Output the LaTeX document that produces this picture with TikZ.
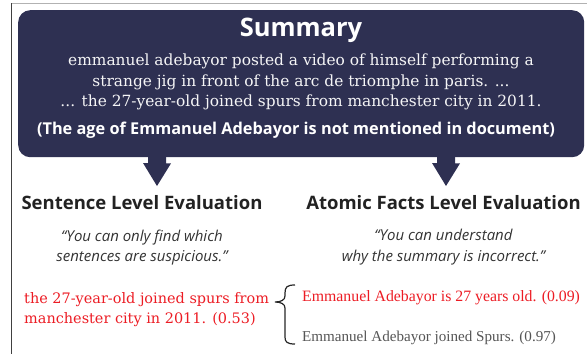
\documentclass[tikz,border=0pt]{standalone}
\usepackage{fontspec}
\setmainfont{DejaVu Serif}
\setsansfont{Open Sans}
\newfontfamily\factfont{Liberation Serif}
\usepackage{xcolor}
\usepackage{tikz}
\usetikzlibrary{positioning}

\definecolor{navy}{HTML}{2E3052}
\definecolor{factred}{HTML}{EC1C24}
\definecolor{headgray}{HTML}{222222}
\definecolor{quotegray}{HTML}{333333}
\definecolor{factgray}{HTML}{555555}

\tikzset{
  heading/.style={font=\sffamily\bfseries\fontsize{18.5}{22}\selectfont, text=headgray, inner sep=0pt},
  quote/.style={font=\sffamily\itshape\fontsize{15}{20.5}\selectfont, text=quotegray, align=center, inner sep=0pt},
  fact/.style={font=\factfont\fontsize{15.8}{18}\selectfont, inner sep=0pt, anchor=base west},
  blockarrow/.style={fill=navy}
}

\begin{document}
\begin{tikzpicture}[x=1pt,y=-1pt]
        \useasboundingbox (0,0) rectangle (587,354);
        % Frame
        \draw[gray!60, line width=0.8pt] (11,3) -- (587,3);
        \draw[black!75, line width=0.8pt] (11,3) -- (11,354);

        % Summary box
        \node (summary) [fill=navy, rounded corners=12pt, minimum width=566pt, minimum height=147pt, inner sep=0pt, anchor=north west] at (18,10) {};
        \node (title) [anchor=base, text=white, inner sep=0pt, font=\sffamily\bfseries\fontsize{25.5}{29}\selectfont] at (301,36) {Summary};
        \node (body) [text=white!95!navy, align=center, inner sep=0pt, font=\fontsize{15.4}{20.5}\selectfont] at (301,82)
            {emmanuel adebayor posted a video of himself performing a\\
             strange jig in front of the arc de triomphe in paris. ...\\
             ... the 27-year-old joined spurs from manchester city in 2011.};
        \node (note) [anchor=base, text=white, inner sep=0pt, font=\sffamily\bfseries\fontsize{16.3}{19}\selectfont] at (296,134)
            {(The age of Emmanuel Adebayor is not mentioned in document)};

        % Arrows
        \coordinate (lt) at (157,186);
        \coordinate (rt) at (446,186);
        \foreach \t in {lt,rt}
            \fill[blockarrow] (summary.south -| \t) ++(-9,-1) -- ++(18,0) -- ++(0,7) -- ++(5,0)
                -- (\t) -- ++(-14,-23) -- ++(5,0) -- cycle;

        % Headings
        \node (sent) [heading, anchor=base] at (142,209) {Sentence Level Evaluation};
        \node (atom) [heading, anchor=base] at (443.5,209) {Atomic Facts Level Evaluation};
        \node (sentq) [quote, below=20pt of sent]
            {“You can only find which\\ sentences are suspicious.”};
        \node (atomq) [quote, below=20pt of atom]
            {“You can understand\\ why the summary is incorrect.”};

        % Evaluations
        \node (sentev) [anchor=north west, inner sep=0pt, align=left, text=factred, font=\fontsize{14.45}{20}\selectfont] at (24,292.5)
            {the 27-year-old joined spurs from\\ manchester city in 2011. (0.53)};
        \draw[black!85, line width=1.2pt] (295,285) .. controls (287,285) and (285,287) .. (285,293) -- (285,296)
            .. controls (285,300) and (281,302) .. (275,302) .. controls (281,302) and (285,304) .. (285,308)
            -- (285,337) .. controls (285,342) and (287,344) .. (295,344);
        \node (fact1) [fact, text=factred] at (302,301) {Emmanuel Adebayor is 27 years old. (0.09)};
        \node (fact2) [fact, text=factgray, font=\factfont\fontsize{15.1}{18}\selectfont] at (302,341) {Emmanuel Adebayor joined Spurs. (0.97)};

    \end{tikzpicture}
\end{document}
